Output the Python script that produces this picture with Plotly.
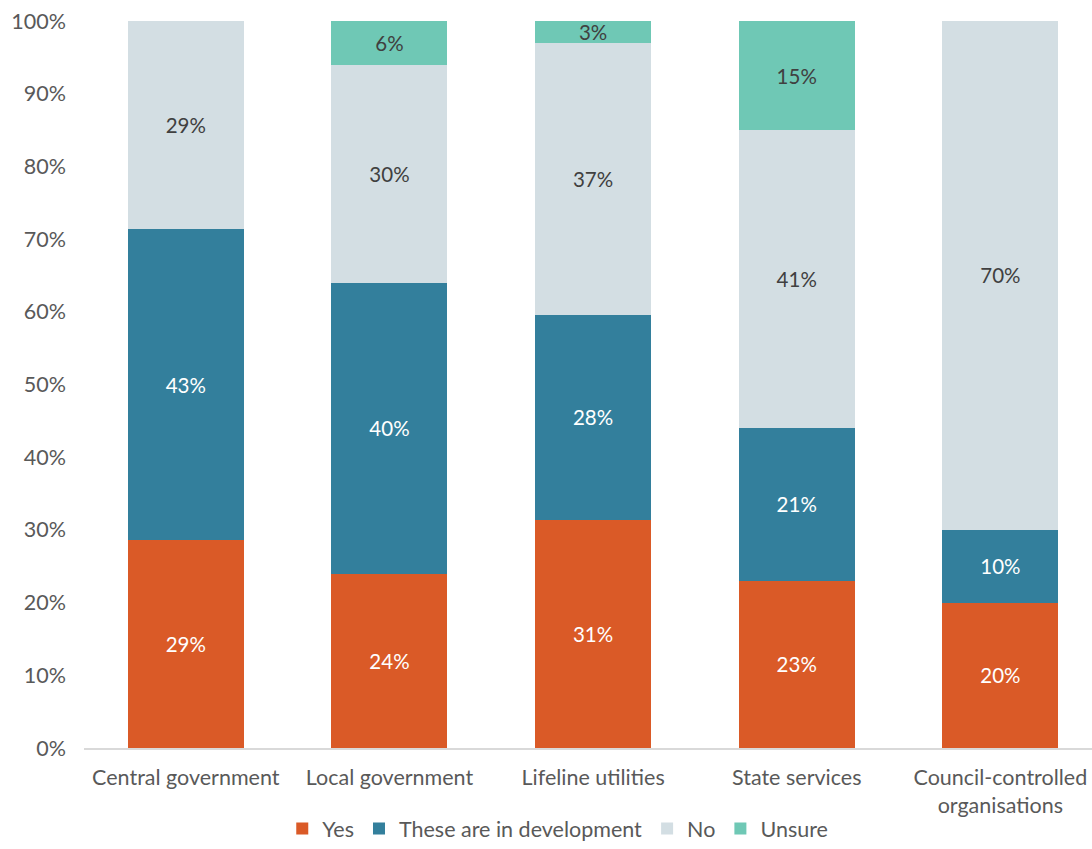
import plotly.graph_objects as go

categories = ["Central government", "Local government", "Lifeline utilities",
              "State services", "Council-controlled<br>organisations"]
yes_pct = [28.6, 24, 31.4, 23, 20]
dev_pct = [42.8, 40, 28.2, 21, 10]
no_pct = [28.6, 30, 37.4, 41, 70]
unsure_pct = [0, 6, 3.0, 15, 0]
y_ticks = list(range(0, 101, 10))

series = [
    ("Yes", yes_pct, "#DA5A27", "white"),
    ("These are in development", dev_pct, "#337F9C", "white"),
    ("No", no_pct, "#D3DEE3", "#404040"),
    ("Unsure", unsure_pct, "#6FC8B5", "#404040"),
]

font_family = "Lato, 'Open Sans', sans-serif"

fig = go.Figure()
for name, vals, color, tcolor in series:
    labels = [f"{v:.0f}%" if v > 0 else "" for v in vals]
    fig.add_trace(go.Bar(
        x=list(range(len(categories))), y=vals, name=name,
        marker=dict(color=color, line=dict(width=0)),
        text=labels, textposition="inside", insidetextanchor="middle",
        textangle=0, textfont=dict(color=tcolor, size=20.5, family=font_family),
        hoverinfo="skip",
    ))

fig.update_layout(
    barmode="stack", bargap=0.43,
    width=1092, height=849,
    margin=dict(l=84, r=0, t=21, b=101),
    paper_bgcolor="white", plot_bgcolor="white",
    font=dict(family=font_family, color="#595959", size=21.5),
    uniformtext=dict(minsize=20, mode="show"),
    showlegend=True,
    legend=dict(orientation="h", x=0.47, xanchor="center", y=-0.139, yanchor="bottom",
                font=dict(size=21.5, color="#595959"), traceorder="normal",
                itemwidth=30, tracegroupgap=0),
)
fig.update_xaxes(
    tickmode="array", tickvals=list(range(len(categories))), ticktext=categories,
    range=[-0.5, 4.45], showgrid=False, zeroline=False,
    showline=True, linecolor="#D9D9D9", linewidth=1.5, ticks="",
    ticklabelstandoff=9, tickfont=dict(size=21.5, color="#595959"),
)
fig.update_yaxes(
    range=[0, 100], tickmode="array", tickvals=y_ticks,
    ticktext=[f"{t}%" for t in y_ticks],
    showgrid=False, zeroline=False, showline=False, ticks="",
    ticklabelstandoff=17, tickfont=dict(size=21.5, color="#595959"),
)

fig.write_html("out.html")
